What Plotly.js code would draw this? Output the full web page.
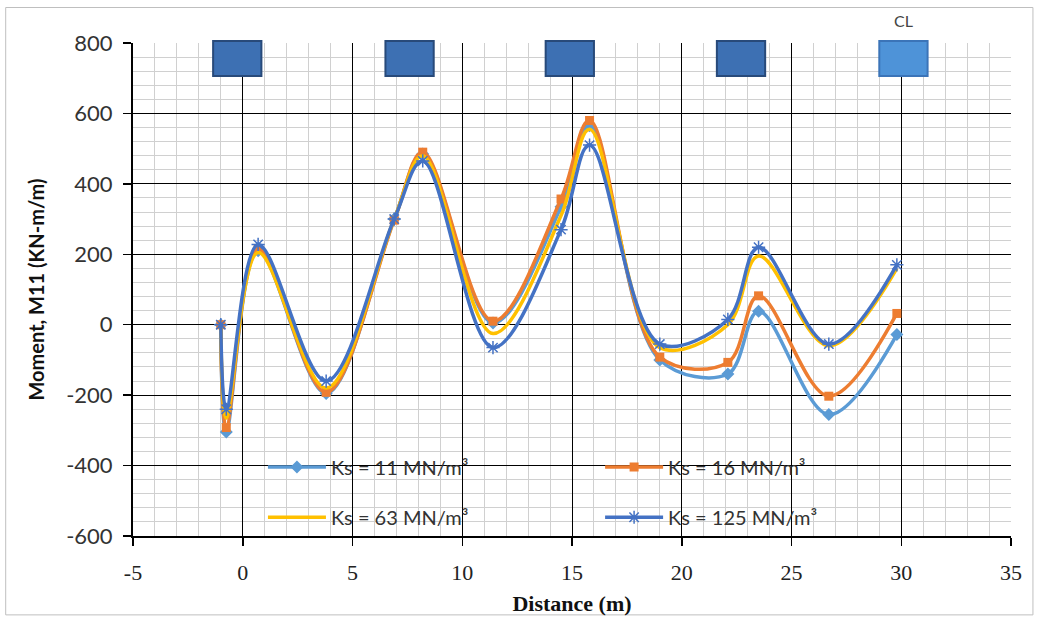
<!DOCTYPE html>
<html>
<head>
<meta charset="utf-8">
<script src="https://cdn.plot.ly/plotly-3.0.1.min.js"></script>
<style>
html,body{margin:0;padding:0;background:#fff;}
#chart{width:1040px;height:620px;}
</style>
</head>
<body>
<div id="chart"></div>
<script>
// ---- Data ----
const distance = [-1, -0.75, 0.7, 3.8, 6.9, 8.2, 11.4, 14.5, 15.8, 19.0, 22.1, 23.5, 26.7, 29.8];
const ks11  = [0, -305, 210, -195, 300, 485,   5, 335, 565, -100, -140,  38, -255, -28];
const ks16  = [0, -292, 215, -192, 297, 490,  10, 357, 580,  -92, -107,  82, -203,  32];
const ks63  = [0, -265, 205, -180, 300, 480, -25, 310, 555,  -65,    0, 195,  -60, 160];
const ks125 = [0, -240, 228, -160, 300, 465, -65, 270, 510,  -55,   15, 220,  -55, 170];
const seriesNames = ["Ks = 11 MN/m³", "Ks = 16 MN/m³", "Ks = 63 MN/m³", "Ks = 125 MN/m³"];
const columnX = [-0.25, 7.6, 14.9, 22.7, 30.1];   // column (pier) positions along the distance axis
const xTicks = [-5, 0, 5, 10, 15, 20, 25, 30, 35];
const yTicks = [-600, -400, -200, 0, 200, 400, 600, 800];

const legendFont = {family: "Lato, 'Open Sans', sans-serif", size: 20, color: "#333333"};

const traces = [
  {x: distance, y: ks11, name: seriesNames[0], mode: "lines+markers",
   line: {color: "#5B9BD5", width: 3.5, shape: "spline", smoothing: 1},
   marker: {symbol: "diamond", size: 10, color: "#5B9BD5"}, legend: "legend"},
  {x: distance, y: ks16, name: seriesNames[1], mode: "lines+markers",
   line: {color: "#ED7D31", width: 3.5, shape: "spline", smoothing: 1},
   marker: {symbol: "square", size: 9, color: "#ED7D31"}, legend: "legend2"},
  {x: distance, y: ks63, name: seriesNames[2], mode: "lines",
   line: {color: "#FFC000", width: 3.5, shape: "spline", smoothing: 1}, legend: "legend3"},
  {x: distance, y: ks125, name: seriesNames[3], mode: "lines+markers",
   line: {color: "#4472C4", width: 3.5, shape: "spline", smoothing: 1},
   marker: {symbol: "asterisk-open", size: 11, color: "#4472C4", line: {color: "#4472C4", width: 1.5}},
   legend: "legend4"}
];

const shapes = columnX.map((cx, i) => ({
  type: "rect", xref: "x", yref: "paper",
  x0: cx - 1.1, x1: cx + 1.1, y0: 0.933, y1: 1.004,
  fillcolor: i === columnX.length - 1 ? "#4E93D8" : "#3D70B3",
  line: {color: i === columnX.length - 1 ? "#3B74B8" : "#284A7A", width: 2},
  layer: "above"
}));
// outer chart border
shapes.push({type: "rect", xref: "paper", yref: "paper",
  x0: -0.145, x1: 1.025, y0: -0.16, y1: 1.072,
  line: {color: "#BFBFBF", width: 1}, fillcolor: "rgba(0,0,0,0)", layer: "below"});

function leg(x, y) {
  return {x: x, y: y, xanchor: "left", yanchor: "middle", bgcolor: "rgba(0,0,0,0)",
          font: legendFont, itemwidth: 58, borderwidth: 0};
}

const layout = {
  width: 1040, height: 620,
  margin: {l: 133, r: 29, t: 43, b: 84},
  paper_bgcolor: "#ffffff", plot_bgcolor: "#ffffff",
  showlegend: true,
  legend: leg(0.148, 0.140),
  legend2: leg(0.532, 0.140),
  legend3: leg(0.148, 0.038),
  legend4: leg(0.532, 0.038),
  xaxis: {
    range: [-5, 35], tickvals: xTicks, ticktext: xTicks.map(String),
    showgrid: true, gridcolor: "#000000", gridwidth: 1,
    minor: {dtick: 1, showgrid: true, gridcolor: "#D0D0D0", gridwidth: 1},
    showline: true, linecolor: "#000000", linewidth: 2, mirror: false,
    ticks: "outside", ticklen: 8, tickcolor: "#000000", tickwidth: 1.5,
    ticklabelstandoff: 8,
    zeroline: false,
    tickfont: {family: "'Liberation Serif', 'DejaVu Serif', serif", size: 22, color: "#222222"},
    title: {text: "<b>Distance (m)</b>", standoff: 11,
            font: {family: "'Liberation Serif', serif", size: 22, color: "#111111"}}
  },
  yaxis: {
    range: [-600, 800], tickvals: yTicks, ticktext: yTicks.map(String),
    showgrid: true, gridcolor: "#000000", gridwidth: 1,
    minor: {dtick: 40, showgrid: true, gridcolor: "#D0D0D0", gridwidth: 1},
    showline: true, linecolor: "#000000", linewidth: 2,
    ticks: "outside", ticklen: 8, tickcolor: "#000000", tickwidth: 1.5,
    ticklabelstandoff: 6,
    zeroline: false,
    tickfont: {family: "Lato, 'Open Sans', sans-serif", size: 22, color: "#333333"},
    title: {text: "<b>Moment, M11 (KN-m/m)</b>", standoff: 16,
            font: {family: "Lato, 'Open Sans', sans-serif", size: 20, color: "#111111"}}
  },
  shapes: shapes,
  annotations: [{
    text: "CL", xref: "x", yref: "paper", x: columnX[columnX.length - 1], y: 1.045,
    showarrow: false, yanchor: "middle",
    font: {family: "Lato, 'Open Sans', sans-serif", size: 16, color: "#444444"}
  }]
};

Plotly.newPlot("chart", traces, layout, {displayModeBar: false, staticPlot: true});
</script>
</body>
</html>
